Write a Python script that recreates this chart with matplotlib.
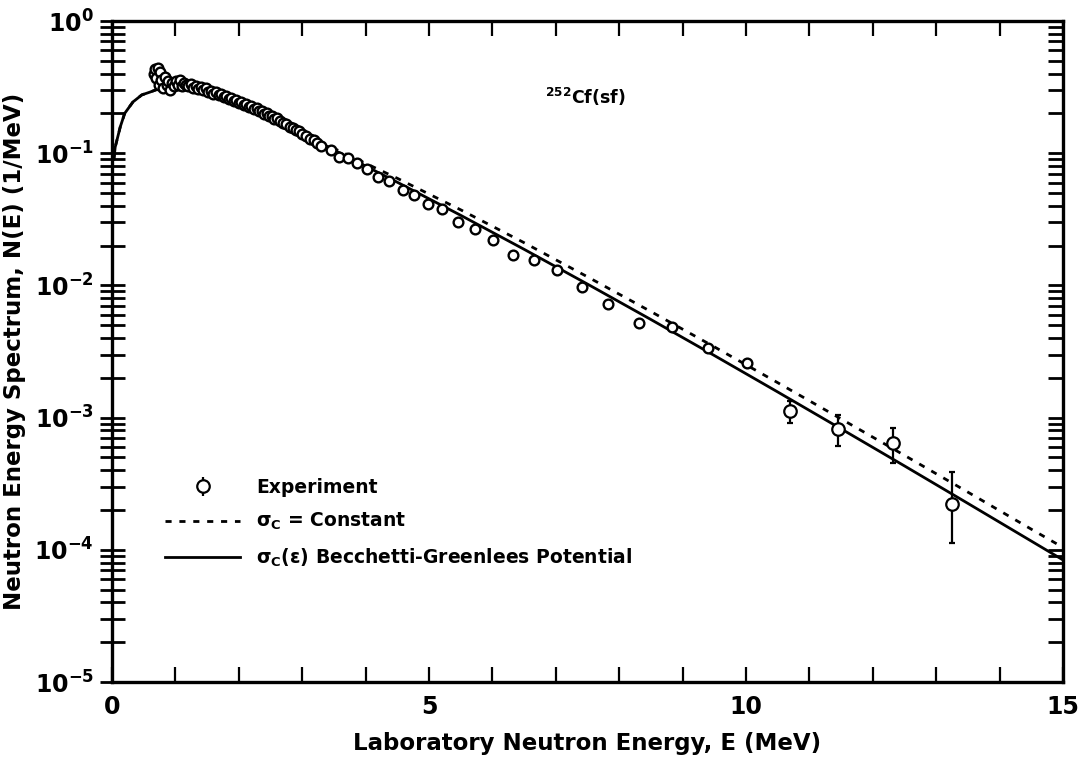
import math
import matplotlib
matplotlib.use("Agg")
import matplotlib.pyplot as plt
from matplotlib.ticker import LogLocator, FixedLocator, MultipleLocator, FuncFormatter
from matplotlib.lines import Line2D

plt.rcParams['font.family'] = ['DejaVu Sans']
plt.rcParams['font.weight'] = 'bold'
plt.rcParams['axes.labelweight'] = 'bold'
plt.rcParams['mathtext.fontset'] = 'dejavusans'
plt.rcParams['mathtext.default'] = 'bf'

# --- measured spectrum (E in MeV, N in 1/MeV) ---
exp_E = [0.66, 0.68, 0.70, 0.72, 0.74, 0.76, 0.78, 0.80,
         0.83, 0.86, 0.89, 0.92, 0.95, 0.98, 1.01, 1.04, 1.07, 1.10, 1.13, 1.16,
         1.20, 1.24, 1.28, 1.32, 1.36, 1.40, 1.44, 1.48, 1.52, 1.56,
         1.60, 1.64, 1.68, 1.72, 1.76, 1.80, 1.84, 1.88, 1.92, 1.96,
         2.00, 2.04, 2.08, 2.12, 2.16, 2.20, 2.24, 2.28, 2.32, 2.36,
         2.40, 2.44, 2.48, 2.52, 2.56, 2.60,
         2.65, 2.70, 2.75, 2.80, 2.85, 2.90, 2.95, 3.00,
         3.06, 3.12, 3.18, 3.24, 3.30,
         3.45, 3.58, 3.72, 3.86, 4.02, 4.20, 4.37, 4.59, 4.76, 4.98, 5.21, 5.46,
         5.73, 6.01, 6.32, 6.66, 7.02, 7.41, 7.82, 8.31, 8.83, 9.40, 10.02]
exp_N = [0.40, 0.43, 0.37, 0.44, 0.33, 0.41, 0.36, 0.31,
         0.38, 0.33, 0.35, 0.30, 0.34, 0.32, 0.35, 0.33, 0.36, 0.32, 0.34, 0.33,
         0.32, 0.335, 0.31, 0.325, 0.305, 0.315, 0.30, 0.31, 0.29, 0.295,
         0.28, 0.29, 0.275, 0.28, 0.265, 0.27, 0.255, 0.262, 0.25, 0.254,
         0.24, 0.245, 0.232, 0.236, 0.224, 0.228, 0.215, 0.219, 0.207, 0.21,
         0.198, 0.201, 0.19, 0.192, 0.182, 0.184,
         0.175, 0.168, 0.166, 0.158, 0.156, 0.149, 0.147, 0.14,
         0.136, 0.129, 0.125, 0.119, 0.114,
         0.1057, 0.0936, 0.092, 0.0843, 0.0759, 0.0661, 0.0616, 0.0527, 0.0483,
         0.0413, 0.0378, 0.0302, 0.0267, 0.0221, 0.0170, 0.0156, 0.0131, 0.00972,
         0.00723, 0.00520, 0.00484, 0.00336, 0.00259]

# high-energy points with error bars
err_E = [10.69, 11.45, 12.32, 13.25]
err_N = [0.00112, 0.00082, 0.000643, 0.000222]
err_lo = [0.00091, 0.00061, 0.00045, 0.000112]
err_hi = [0.00134, 0.00105, 0.00083, 0.00039]

# --- calculated spectra ---
model_E = [0.03, 0.05, 0.13, 0.2, 0.33, 0.47, 0.6, 0.8, 1.0, 1.3, 1.6, 2.0, 2.5,
           3.0, 3.5, 4.5, 5.5, 6.5, 7.5, 8.5, 9.5, 10.5, 11.5, 12.5, 13.5, 14.5, 15.0]
bg_N = [0.09, 0.111, 0.158, 0.20, 0.244, 0.276, 0.29, 0.315, 0.32, 0.31, 0.29,
        0.245, 0.19, 0.142, 0.1059, 0.0603, 0.0339, 0.01875, 0.01023, 0.00552,
        0.00295, 0.001563, 0.000822, 0.000431, 0.0002244, 0.0001164, 8.38e-5]
const_N = [0.09, 0.111, 0.158, 0.20, 0.244, 0.276, 0.29, 0.315, 0.32, 0.31, 0.29,
           0.245, 0.19, 0.142, 0.1088, 0.0646, 0.0373, 0.02104, 0.01161, 0.00634,
           0.00343, 0.001837, 0.000977, 0.000518, 0.000273, 0.0001432, 0.0001042]

decades = [-5, -4, -3, -2, -1, 0]
x_major = [0, 5, 10, 15]

W, H = 1084, 763
fig = plt.figure(figsize=(W / 100, H / 100), dpi=100)
ax = fig.add_axes([112 / W, 1 - 682 / H, (1063 - 112) / W, (682 - 21) / H])

dots = (0, (2.2, 2.8))
ax.plot(model_E, const_N, color='black', lw=2.0, linestyle=dots, zorder=2)
ax.plot(model_E, bg_N, color='black', lw=2.0, zorder=2)

ax.plot(exp_E, exp_N, linestyle='none', marker='o', ms=7, mfc='white',
        mec='black', mew=1.7, zorder=3)
lo = [n - l for n, l in zip(err_N, err_lo)]
hi = [h - n for n, h in zip(err_N, err_hi)]
ax.errorbar(err_E, err_N, yerr=[lo, hi], fmt='o', ms=9, mfc='white', mec='black',
            mew=1.6, ecolor='black', elinewidth=1.6, capsize=2.5, capthick=1.6, zorder=3)

ax.set_yscale('log')
ax.set_xlim(0, 15)
ax.set_ylim(1e-5, 1)

ax.yaxis.set_major_locator(FixedLocator([10.0 ** d for d in decades]))
ax.yaxis.set_minor_locator(LogLocator(base=10, subs=range(2, 10), numticks=20))
ax.yaxis.set_major_formatter(FuncFormatter(
    lambda v, p: r'$\mathbf{10^{%d}}$' % round(math.log10(v))))
ax.yaxis.set_minor_formatter(FuncFormatter(lambda v, p: ''))
ax.xaxis.set_major_locator(FixedLocator(x_major))
ax.xaxis.set_minor_locator(MultipleLocator(1))

for s in ax.spines.values():
    s.set_linewidth(2.4)

ax.tick_params(axis='y', which='both', left=True, right=False, direction='inout',
               length=18, width=2.0, labelsize=17, pad=4)
ax.tick_params(axis='x', which='both', bottom=True, top=True, direction='in',
               length=11, width=1.6, labelsize=17, pad=9)

# inward ticks on the right edge
ax_r = ax.twinx()
ax_r.set_yscale('log')
ax_r.set_ylim(1e-5, 1)
ax_r.yaxis.set_major_locator(FixedLocator([10.0 ** d for d in decades]))
ax_r.yaxis.set_minor_locator(LogLocator(base=10, subs=range(2, 10), numticks=20))
ax_r.tick_params(axis='y', which='both', direction='in', length=11, width=2.0,
                 labelright=False)
for s in ax_r.spines.values():
    s.set_visible(False)

ax.set_xlabel('Laboratory Neutron Energy, E (MeV)', fontsize=16.5, labelpad=10)
ax.set_ylabel('Neutron Energy Spectrum, N(E) (1/MeV)', fontsize=16.5, labelpad=6)

ax.text(0.455, 0.885, r'$^{\mathbf{252}}$Cf(sf)', transform=ax.transAxes,
        fontsize=12.5, ha='left', va='center')

h_exp = ax.errorbar([], [], yerr=[], fmt='o', ms=9, mfc='white', mec='black',
                    mew=1.6, ecolor='black', elinewidth=1.6, capsize=2.5, capthick=1.6)
h_const = Line2D([], [], color='black', lw=2.0, linestyle=dots)
h_bg = Line2D([], [], color='black', lw=2.0)
ax.legend([h_exp, h_const, h_bg],
          ['Experiment', r'$\sigma_{\mathbf{C}}$ = Constant',
           r'$\sigma_{\mathbf{C}}(\epsilon)$ Becchetti-Greenlees Potential'],
          loc='upper left', bbox_to_anchor=(165 / W, 1 - 478 / H),
          bbox_transform=fig.transFigure, frameon=False, fontsize=13.5,
          handlelength=4.0, handletextpad=0.85, labelspacing=0.75, borderpad=0,
          borderaxespad=0)

fig.savefig('out.png', dpi=100)
